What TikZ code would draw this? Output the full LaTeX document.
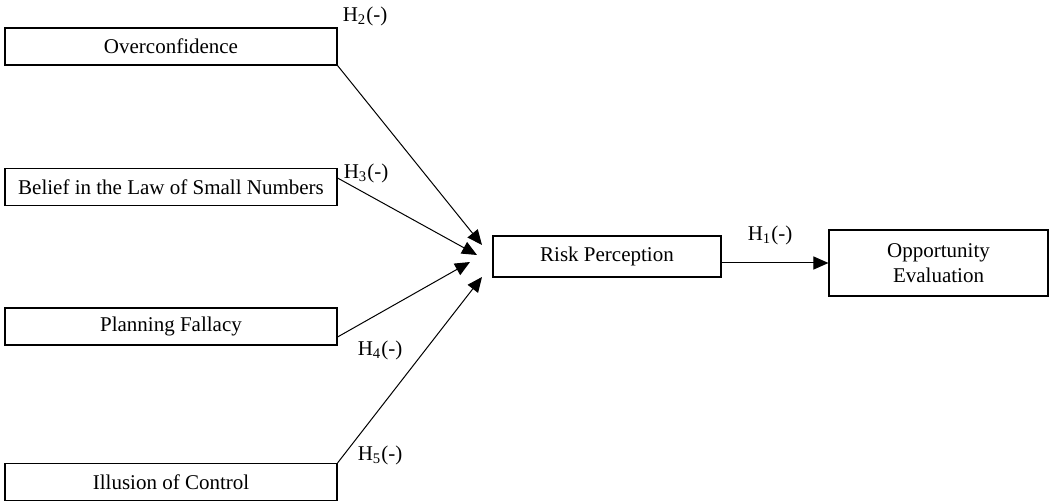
\documentclass[tikz,border=0pt]{standalone}
\usepackage{fontspec}
\setmainfont{Liberation Serif}
\usetikzlibrary{arrows.meta}
\tikzset{
  factor/.style={draw,line width=0.55pt,minimum width=166pt,minimum height=18.5pt,inner sep=0pt},
  hyp/.style={inner sep=0pt},
  link/.style={line width=0.5pt,-{Triangle[length=7.5pt,width=6.5pt]}},
}

\begin{document}
\begin{tikzpicture}[x=0.5pt,y=-0.5pt,every node/.style={font=\fontsize{10.5}{12.5}\selectfont}]
  \useasboundingbox (0,0) rectangle (1049,502);
  % biases
  \node[factor] (OC) at (171,46.5) {Overconfidence};
  \node[factor] (LSN) at (171,187) {Belief in the Law of Small Numbers};
  \node[factor] (PF) at (171,326.5) {Planning Fallacy};
  \node[factor] (IC) at (171,482) {Illusion of Control};
  % mediator and outcome
  \node[factor,minimum width=114pt,minimum height=20.5pt] (RP) at (607,256.5) {Risk Perception};
  \node[factor,minimum width=109.5pt,minimum height=33pt,align=center] (OE) at (938.5,263) {Opportunity\\Evaluation};
  \coordinate (t2) at (482,245);
  \coordinate (t3) at (477,255);
  \coordinate (t4) at (470,262);
  \coordinate (t5) at (482,277);
  \draw[link] (OC.south east) -- (t2);
  \draw[link] ([yshift=4.5pt]LSN.east) -- (t3);
  \draw[link] ([yshift=-5.25pt]PF.east) -- (t4);
  \draw[link] (IC.north east) -- (t5);
  \draw[link] (RP.east |- OE.west) -- (OE.west);
  % hypotheses
  \node[hyp] (H2) at (365,16) {H\textsubscript{2}(-)};
  \node[hyp] (H3) at (366,173) {H\textsubscript{3}(-)};
  \node[hyp] (H4) at (380,350) {H\textsubscript{4}(-)};
  \node[hyp] (H5) at (380,455) {H\textsubscript{5}(-)};
  \node[hyp] (H1) at (770,235) {H\textsubscript{1}(-)};
\end{tikzpicture}
\end{document}
